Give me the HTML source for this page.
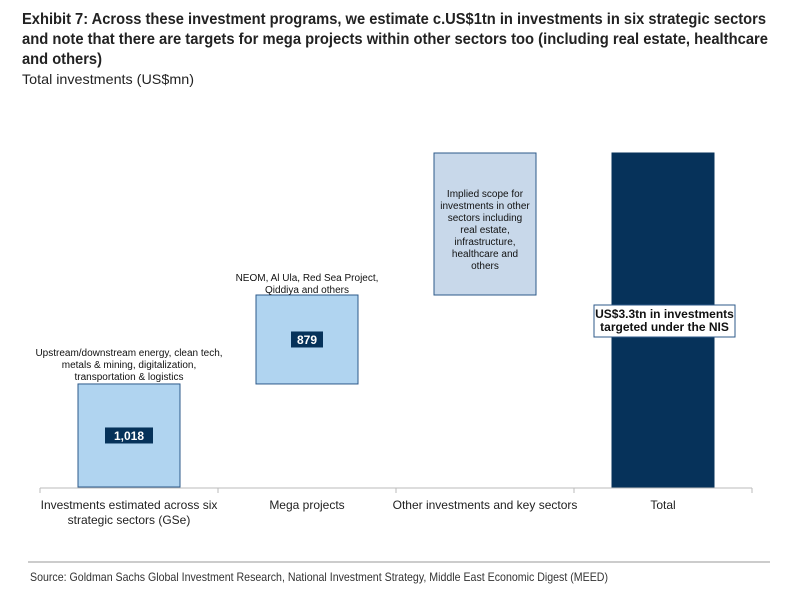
<!DOCTYPE html>
<html><head><meta charset="utf-8"><style>
body{margin:0;background:#fff;width:786px;height:604px;overflow:hidden;font-family:"Liberation Sans",sans-serif}
svg{display:block}
</style></head><body>
<svg id="chart" width="786" height="604" font-family="Liberation Sans, sans-serif">
<g font-weight="bold" font-size="16" fill="#222">
<text x="22" y="24" textLength="744" lengthAdjust="spacingAndGlyphs">Exhibit 7: Across these investment programs, we estimate c.US$1tn in investments in six strategic sectors</text>
<text x="22" y="44" textLength="746" lengthAdjust="spacingAndGlyphs">and note that there are targets for mega projects within other sectors too (including real estate, healthcare</text>
<text x="22" y="64" textLength="80" lengthAdjust="spacingAndGlyphs">and others)</text>
</g>
<text x="22" y="84" font-size="14" fill="#222" textLength="172" lengthAdjust="spacingAndGlyphs">Total investments (US$mn)</text>
<g id="bars"></g>
<line x1="40" y1="488" x2="752" y2="488" stroke="#bbb" stroke-width="1"/>
<g id="ticks"></g>
<line x1="28" y1="562" x2="770" y2="562" stroke="#999" stroke-width="1"/>
<text x="30" y="581" font-size="12" fill="#333" textLength="578" lengthAdjust="spacingAndGlyphs">Source: Goldman Sachs Global Investment Research, National Investment Strategy, Middle East Economic Digest (MEED)</text>
</svg>
<script>
const categories=["Investments estimated across six|strategic sectors (GSe)","Mega projects","Other investments and key sectors","Total"];
const values=[1018,879,1403,3300];
const valueLabels=["1,018","879","",""];
const ns="http://www.w3.org/2000/svg";
const baseY=487, scale=334/3300, left=40, band=178, barW=102;
function y(v){return baseY-v*scale;}
function xc(i){return left+band*i+band/2;}
function mk(tag,attrs,parent){const e=document.createElementNS(ns,tag);for(const k in attrs)e.setAttribute(k,attrs[k]);parent.appendChild(e);return e;}
const bars=document.getElementById('bars'), ticks=document.getElementById('ticks');
let cum=0;
const fills=["#b0d4f0","#b0d4f0","#c8d8ea","#06325a"];
const strokes=["#2d5a8a","#2d5a8a","#2d5a8a","#06325a"];
for(let i=0;i<values.length;i++){
  const isTotal=i===values.length-1;
  const lo=isTotal?0:cum, hi=isTotal?values[i]:cum+values[i];
  if(!isTotal)cum+=values[i];
  const r=mk('rect',{x:xc(i)-barW/2,y:y(hi),width:barW,height:y(lo)-y(hi),fill:fills[i],stroke:strokes[i],'stroke-width':1},bars);
  
  
  if(valueLabels[i]){
    const cy=(y(lo)+y(hi))/2, w=valueLabels[i].length*8+8;
    const b=mk('rect',{x:xc(i)-w/2,y:cy-8,width:w,height:16,fill:'#06325a'},bars);
    
    
    const t=mk('text',{x:xc(i),y:cy+4.5,'text-anchor':'middle','font-size':12,'font-weight':'bold',fill:'#fff'},bars);
    t.textContent=valueLabels[i];
    
    
  }
  const lines=categories[i].split('|');
  lines.forEach((s,j)=>{
    const t=mk('text',{x:xc(i),y:509+j*15,'text-anchor':'middle','font-size':12,fill:'#222'},ticks);
    t.textContent=s;
    
    
  });
}
for(let i=0;i<=4;i++){const l=mk('line',{x1:left+band*i,y1:488,x2:left+band*i,y2:493,stroke:'#bbb'},ticks);

}
function note(lines,cx,y0,dy,name){lines.forEach((s,j)=>{const t=mk('text',{x:cx,y:y0+j*dy,'text-anchor':'middle','font-size':10,fill:'#111'},bars);t.textContent=s;

});}
note(["Upstream/downstream energy, clean tech,","metals & mining, digitalization,","transportation & logistics"],xc(0),356,12,'annotation-sectors');
note(["NEOM, Al Ula, Red Sea Project,","Qiddiya and others"],xc(1),281,12,'annotation-mega');
note(["Implied scope for","investments in other","sectors including","real estate,","infrastructure,","healthcare and","others"],xc(2),197,12,'annotation-other');
const bx=mk('rect',{x:594,y:305,width:141,height:32,fill:'#fff',stroke:'#2d5a8a'},bars);


["US$3.3tn in investments","targeted under the NIS"].forEach((s,j)=>{const t=mk('text',{x:664.5,y:318+j*13,'text-anchor':'middle','font-size':12,'font-weight':'bold',fill:'#111'},bars);t.textContent=s;

});
</script>
</body></html>
